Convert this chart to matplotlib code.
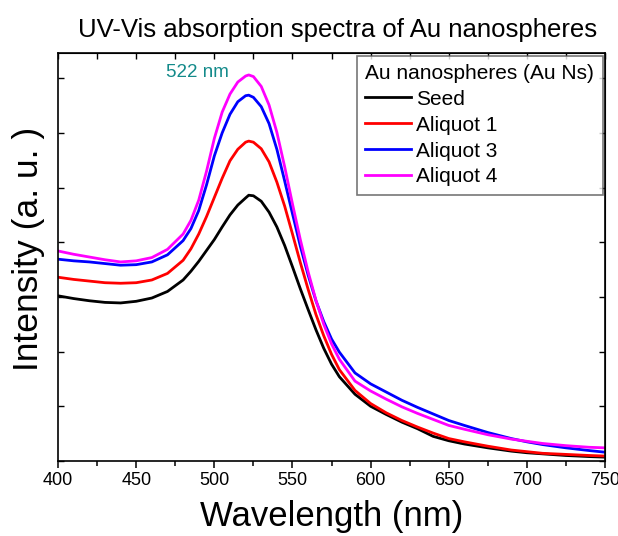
import numpy as np
import matplotlib
matplotlib.use("Agg")
import matplotlib.pyplot as plt
from matplotlib.ticker import MultipleLocator, NullFormatter

plt.rcParams['font.family'] = ['Liberation Sans', 'DejaVu Sans']

# absorbance along the wavelength grid (a. u.)
wavelength = [400, 410, 420, 430, 440, 450, 460, 470, 480, 485, 490, 495, 500,
              505, 510, 515, 520, 522, 525, 530, 535, 540, 545, 550, 555, 560,
              565, 570, 575, 580, 590, 600, 610, 620, 630, 640, 650, 660, 675,
              690, 700, 710, 725, 740, 750]
seed = [0.302, 0.297, 0.293, 0.290, 0.289, 0.292, 0.298, 0.310, 0.331, 0.347,
        0.365, 0.385, 0.405, 0.428, 0.450, 0.468, 0.481, 0.486, 0.485, 0.475,
        0.455, 0.428, 0.394, 0.355, 0.315, 0.277, 0.240, 0.206, 0.177, 0.154,
        0.122, 0.100, 0.085, 0.071, 0.059, 0.045, 0.037, 0.031, 0.024, 0.018,
        0.015, 0.013, 0.010, 0.008, 0.007]
aliquot1 = [0.336, 0.332, 0.329, 0.326, 0.325, 0.326, 0.331, 0.343, 0.367, 0.388,
            0.415, 0.447, 0.482, 0.517, 0.549, 0.570, 0.583, 0.585, 0.583, 0.571,
            0.547, 0.510, 0.466, 0.415, 0.363, 0.314, 0.268, 0.229, 0.195, 0.167,
            0.129, 0.105, 0.088, 0.074, 0.062, 0.051, 0.041, 0.035, 0.027, 0.020,
            0.017, 0.014, 0.012, 0.010, 0.009]
aliquot3 = [0.369, 0.366, 0.364, 0.361, 0.358, 0.359, 0.364, 0.377, 0.403, 0.425,
            0.458, 0.505, 0.558, 0.600, 0.634, 0.657, 0.668, 0.669, 0.665, 0.648,
            0.617, 0.570, 0.512, 0.452, 0.393, 0.340, 0.293, 0.255, 0.223, 0.199,
            0.161, 0.141, 0.126, 0.111, 0.098, 0.086, 0.074, 0.065, 0.052, 0.041,
            0.035, 0.030, 0.024, 0.019, 0.016]
aliquot4 = [0.384, 0.378, 0.373, 0.368, 0.364, 0.366, 0.372, 0.387, 0.415, 0.440,
            0.477, 0.530, 0.590, 0.638, 0.671, 0.693, 0.704, 0.706, 0.703, 0.685,
            0.651, 0.601, 0.538, 0.470, 0.405, 0.346, 0.294, 0.250, 0.214, 0.186,
            0.146, 0.128, 0.113, 0.099, 0.087, 0.076, 0.065, 0.058, 0.048, 0.040,
            0.036, 0.032, 0.028, 0.025, 0.024]

labels = ['Seed', 'Aliquot 1', 'Aliquot 3', 'Aliquot 4']
colors = ['black', 'red', 'blue', 'magenta']
peak_nm = 522

fig = plt.figure(figsize=(6.18, 5.36), dpi=100)
ax = fig.add_axes([0.094, 0.140, 0.885, 0.761])

for y, lab, c in zip([seed, aliquot1, aliquot3, aliquot4], labels, colors):
    ax.plot(wavelength, y, color=c, lw=2, label=lab)

ax.set_xlim(400, 750)
ax.set_ylim(0, 0.746)
ax.xaxis.set_major_locator(MultipleLocator(50))
ax.xaxis.set_minor_locator(MultipleLocator(25))
ax.yaxis.set_major_locator(MultipleLocator(0.1))
ax.yaxis.set_major_formatter(NullFormatter())
ax.tick_params(axis='x', which='major', direction='out', length=5, width=1.1,
               labelsize=13, pad=3)
ax.tick_params(axis='x', which='minor', direction='out', length=3.5, width=1.1)
ax.tick_params(axis='y', which='major', direction='in', length=4, width=1)
for sp in ax.spines.values():
    sp.set_linewidth(1.2)

# mirrored inward ticks on top and right
top = ax.secondary_xaxis('top')
top.xaxis.set_major_locator(MultipleLocator(25))
top.tick_params(direction='in', length=4, width=1, labeltop=False)
right = ax.secondary_yaxis('right')
right.yaxis.set_major_locator(MultipleLocator(0.1))
right.tick_params(direction='in', length=4, width=1, labelright=False)

ax.set_xlabel('Wavelength (nm)', fontsize=25, labelpad=8)
ax.set_ylabel('Intensity (a. u. )', fontsize=25.5)
ax.yaxis.set_label_coords(-0.024, 0.52)
fig.text(0.547, 0.944, 'UV-Vis absorption spectra of Au nanospheres',
         ha='center', va='center', fontsize=18.5)

ax.text(509, 0.711, f'{peak_nm} nm', color='#138a8a',
        fontsize=13.5, ha='right', va='center')

leg = ax.legend(title='Au nanospheres (Au Ns)', loc='upper right', fontsize=15,
                title_fontsize=15, frameon=True, fancybox=False,
                handlelength=2.2, handletextpad=0.25, labelspacing=0.33,
                borderpad=0.4, borderaxespad=0.12)
leg._legend_box.align = 'left'
leg.get_frame().set_edgecolor('#555555')
leg.get_frame().set_linewidth(1.2)

fig.savefig('out.png', dpi=100)
